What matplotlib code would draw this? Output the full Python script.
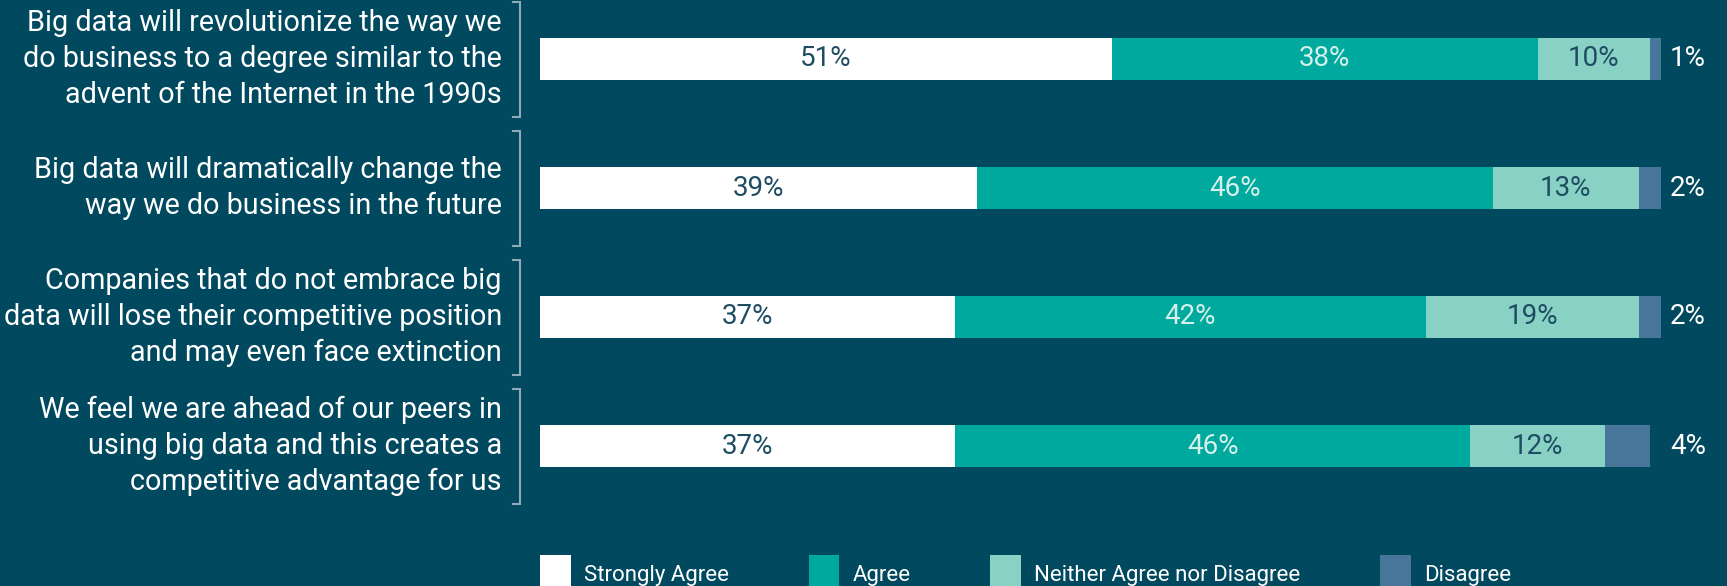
import matplotlib.pyplot as plt
from matplotlib.patches import Patch

# Data
statements = [
    "Big data will revolutionize the way we\ndo business to a degree similar to the\nadvent of the Internet in the 1990s",
    "Big data will dramatically change the\nway we do business in the future",
    "Companies that do not embrace big\ndata will lose their competitive position\nand may even face extinction",
    "We feel we are ahead of our peers in\nusing big data and this creates a\ncompetitive advantage for us",
]
categories = ["Strongly Agree", "Agree", "Neither Agree nor Disagree", "Disagree"]
strongly_agree = [51, 39, 37, 37]
agree = [38, 46, 42, 46]
neither = [10, 13, 19, 12]
disagree = [1, 2, 2, 4]

BG = "#01495f"
colors = ["#ffffff", "#00a99d", "#88d1c4", "#47769a"]
label_colors = ["#1e4d63", "#d5efeb", "#1e4d63", "white"]
BRACKET = "#8faab8"

W, H = 1727, 586

fig = plt.figure(figsize=(W / 100, H / 100), dpi=100, facecolor=BG)
# axes spanning from bar start to bar end horizontally, full height
ax = fig.add_axes([540 / W, 0, (1661 - 540) / W, 1])
ax.set_facecolor(BG)
ax.set_xlim(0, 100)
# row centers at 59 px from top, 129 px apart
ax.set_ylim((H - 59) / 129, -59 / 129)
ax.axis("off")

series = [strongly_agree, agree, neither, disagree]
ypos = list(range(len(statements)))
left = [0] * len(statements)
for i, vals in enumerate(series):
    ax.barh(ypos, vals, left=left, height=0.32, color=colors[i], edgecolor="none")
    for y, v, l in zip(ypos, vals, left):
        if i < 3:
            ax.text(l + v / 2, y, f"{v}%", ha="center", va="center",
                    fontsize=20, color=label_colors[i], family="Roboto")
        else:
            ax.text(100.8, y, f"{v}%", ha="left", va="center",
                    fontsize=20, color=label_colors[i], family="Roboto")
    left = [a + b for a, b in zip(left, vals)]

# statement labels with brackets
for y, s in zip(ypos, statements):
    ax.text(-3.4, y, s, ha="right", va="center", multialignment="right",
            fontsize=20.7, color="white", family="Roboto", linespacing=1.36)
    ax.plot([-2.4, -1.8, -1.8, -2.4], [y - 0.44, y - 0.44, y + 0.45, y + 0.45],
            color=BRACKET, lw=1.5, clip_on=False, solid_joinstyle="miter")

handles = [Patch(facecolor=c, edgecolor="none") for c in colors]
fig.legend(handles, categories, loc="center left", bbox_to_anchor=(540 / W, 12 / H),
           ncol=4, frameon=False, borderpad=0, borderaxespad=0,
           handlelength=1.39, handleheight=2.2,
           handletextpad=0.6, columnspacing=3.57,
           prop={"family": "Roboto", "size": 16}, labelcolor="white")

fig.savefig("out.png", dpi=100, facecolor=BG)
